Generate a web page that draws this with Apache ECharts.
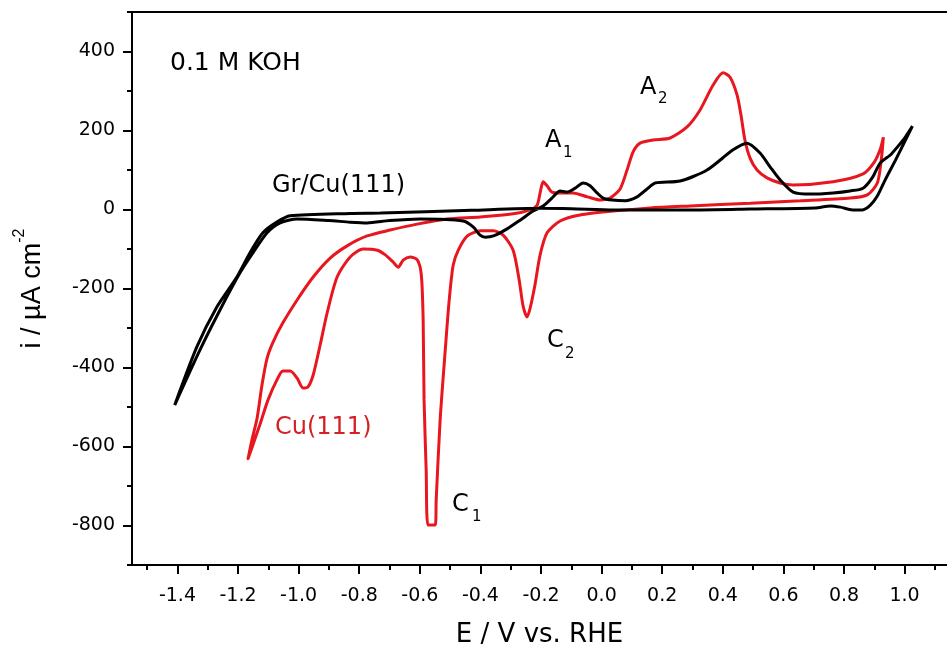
<!DOCTYPE html>
<html>
<head>
<meta charset="utf-8">
<script src="https://cdn.jsdelivr.net/npm/echarts@6/dist/echarts.min.js"></script>
<style>
  html, body { margin: 0; padding: 0; background: #fff; }
  #chart { width: 947px; height: 645px; }
</style>
</head>
<body>
<div id="chart"></div>
<script>
// Cyclic voltammograms in 0.1 M KOH: potential (V vs. RHE) and current density (µA cm^-2).
// Each loop starts at its anodic vertex, runs the cathodic sweep, then returns.

// Gr/Cu(111)
const grCuPotential = [
  1.026, 1.003, 0.970, 0.936, 0.910, 0.887, 0.861, 0.828, 0.788, 0.755, 0.705, 0.49, 0.326, 0.04,
  -0.10, -0.20, -0.43, -0.73, -0.83, -1.028, -1.072, -1.118, -1.161, -1.204, -1.270, -1.336, -1.409,
  -1.326, -1.260, -1.194, -1.151, -1.104, -1.061, -1.005, -0.90, -0.830, -0.774, -0.70, -0.599, -0.457,
  -0.424, -0.401, -0.384, -0.357, -0.312, -0.269, -0.226, -0.193, -0.164, -0.137, -0.114, -0.087, -0.061,
  -0.038, -0.015, 0.005, 0.035, 0.078, 0.117, 0.15, 0.177, 0.259, 0.348, 0.434, 0.480, 0.523, 0.556,
  0.589, 0.632, 0.69, 0.764, 0.82, 0.863, 0.893, 0.920, 0.953, 0.976, 1.003, 1.026
];
const grCuCurrent = [
  211, 176, 125, 75, 34, 11, -1, -1, 6, 9, 4, 1, -1, -1,
  2, 3, -2, -9, -10, -16, -32, -59, -110, -171, -247, -348, -495,
  -356, -255, -161, -110, -59, -34, -24, -28, -32, -34, -28, -24, -29,
  -44, -65, -70, -67, -49, -27, -4, 9, 29, 47, 44, 54, 67,
  60, 42, 29, 24, 22, 32, 52, 67, 72, 100, 151, 168, 143, 108,
  75, 44, 39, 42, 47, 54, 80, 118, 138, 158, 184, 211
];

// Cu(111)
const cuPotential = [
  0.930, 0.923, 0.910, 0.877, 0.821, 0.656, 0.491, 0.293, 0.161, 0.038, -0.071, -0.137, -0.180,
  -0.203, -0.220, -0.236, -0.246, -0.259, -0.272, -0.292, -0.325, -0.357, -0.400, -0.443, -0.473,
  -0.490, -0.503, -0.516, -0.533, -0.546, -0.549, -0.573, -0.579, -0.586, -0.589, -0.595, -0.608,
  -0.632, -0.655, -0.671, -0.688, -0.714, -0.740, -0.787, -0.830, -0.873, -0.906, -0.929, -0.952,
  -0.969, -0.985, -1.005, -1.028, -1.052, -1.072, -1.101, -1.128, -1.151, -1.167,
  -1.154, -1.137, -1.121, -1.104, -1.084, -1.052, -1.005, -0.952, -0.896, -0.840, -0.774, -0.698,
  -0.609, -0.510, -0.401, -0.292, -0.236, -0.213, -0.203, -0.193, -0.180, -0.164, -0.137, -0.094,
  -0.047, -0.005, 0.028, 0.061, 0.084, 0.104, 0.127, 0.170, 0.226, 0.282, 0.325, 0.368, 0.401,
  0.424, 0.447, 0.460, 0.473, 0.490, 0.513, 0.546, 0.589, 0.632, 0.764, 0.863, 0.900, 0.919, 0.930
];
const cuCurrent = [
  183, 125, 67, 37, 29, 22, 16, 9, 4, -4, -14, -29, -59,
  -115, -191, -250, -272, -245, -179, -103, -65, -54, -54, -67, -103,
  -141, -229, -355, -533, -736, -799, -799, -660, -482, -280, -166, -128,
  -120, -128, -146, -133, -115, -103, -100, -120, -171, -262, -343, -419,
  -449, -452, -427, -409, -409, -432, -482, -545, -596, -631,
  -583, -528, -444, -376, -335, -287, -229, -171, -123, -92, -67, -52,
  -37, -24, -19, -11, -1, 11, 42, 70, 60, 44, 42, 42,
  32, 24, 29, 52, 100, 146, 168, 176, 181, 209, 252, 315, 346,
  335, 290, 239, 176, 130, 100, 80, 67, 62, 70, 90, 120, 151, 183
];

// Axis ticks
const xMajorTicks = [-1.4, -1.2, -1.0, -0.8, -0.6, -0.4, -0.2, 0.0, 0.2, 0.4, 0.6, 0.8, 1.0];
const xMinorTicks = [-1.5, -1.3, -1.1, -0.9, -0.7, -0.5, -0.3, -0.1, 0.1, 0.3, 0.5, 0.7, 0.9, 1.1];
const yMajorTicks = [-800, -600, -400, -200, 0, 200, 400];
const yMinorTicks = [-900, -700, -500, -300, -100, 100, 300, 500];

const zip = (xs, ys) => xs.map((x, i) => [x, ys[i]]);

const FONT = '"DejaVu Sans", "Liberation Sans", Arial, sans-serif';
const ARIAL = '"Liberation Sans", Arial, sans-serif';
const RED = '#e8161e';
const X_MIN = -1.55, X_MAX = 1.14, Y_MIN = -900, Y_MAX = 500;

const chart = echarts.init(document.getElementById('chart'), null, { renderer: 'canvas' });

const axisLineStyle = { color: '#000', width: 2 };
const tickStyle = { color: '#000', width: 2 };

function text(left, cy, str, size, color) {
  return {
    type: 'text', left: left, top: cy - size * 0.5, silent: true,
    style: { text: str, font: size + 'px ' + FONT, fill: color || '#000' }
  };
}

chart.setOption({
  animation: false,
  backgroundColor: '#fff',
  grid: { left: 132, right: 0, top: 12, bottom: 80, containLabel: false, outerBoundsMode: 'none' },
  xAxis: [
    {
      type: 'value', min: X_MIN, max: X_MAX, position: 'bottom',
      name: 'E / V vs. RHE', nameLocation: 'middle', nameGap: 57,
      nameTextStyle: { fontFamily: FONT, fontSize: 26, color: '#000' },
      axisLine: { show: true, onZero: false, lineStyle: axisLineStyle },
      axisTick: { show: true, length: 9, customValues: xMajorTicks, lineStyle: tickStyle },
      axisLabel: {
        customValues: xMajorTicks, margin: 22, fontFamily: FONT, fontSize: 19, color: '#000',
        formatter: v => v.toFixed(1)
      },
      splitLine: { show: false }
    },
    {
      type: 'value', min: X_MIN, max: X_MAX, position: 'bottom',
      axisLine: { show: false, onZero: false },
      axisTick: { show: true, length: 5, customValues: xMinorTicks, lineStyle: tickStyle },
      axisLabel: { show: false },
      splitLine: { show: false }
    },
    {
      type: 'value', min: X_MIN, max: X_MAX, position: 'top',
      axisLine: { show: true, onZero: false, lineStyle: axisLineStyle },
      axisTick: { show: false }, axisLabel: { show: false }, splitLine: { show: false }
    }
  ],
  yAxis: [
    {
      type: 'value', min: Y_MIN, max: Y_MAX, position: 'left',
      name: '{t|i / µA cm}{s|-2}', nameLocation: 'middle', nameGap: 86, nameRotate: 90,
      nameTextStyle: {
        fontFamily: ARIAL, fontSize: 27, color: '#000',
        rich: {
          t: { fontFamily: ARIAL, fontSize: 27, color: '#000', verticalAlign: 'bottom', lineHeight: 34 },
          s: { fontFamily: ARIAL, fontSize: 16, color: '#000', verticalAlign: 'top', lineHeight: 34 }
        }
      },
      axisLine: { show: true, onZero: false, lineStyle: axisLineStyle },
      axisTick: { show: true, length: 9, customValues: yMajorTicks, lineStyle: tickStyle },
      axisLabel: { customValues: yMajorTicks, margin: 17, fontFamily: FONT, fontSize: 19, color: '#000' },
      splitLine: { show: false }
    },
    {
      type: 'value', min: Y_MIN, max: Y_MAX, position: 'left',
      axisLine: { show: false, onZero: false },
      axisTick: { show: true, length: 5, customValues: yMinorTicks, lineStyle: tickStyle },
      axisLabel: { show: false },
      splitLine: { show: false }
    }
  ],
  series: [
    {
      name: 'Cu(111)', type: 'line', data: zip(cuPotential, cuCurrent),
      showSymbol: false, smooth: 0.25, clip: true,
      lineStyle: { color: RED, width: 3 }
    },
    {
      name: 'Gr/Cu(111)', type: 'line', data: zip(grCuPotential, grCuCurrent),
      showSymbol: false, smooth: 0.25, clip: true,
      lineStyle: { color: '#000', width: 3 }
    }
  ],
  graphic: [
    text(170, 63, '0.1 M KOH', 25),
    text(272, 186, 'Gr/Cu(111)', 24),
    text(275, 428, 'Cu(111)', 24, '#d42027'),
    text(545, 141, 'A', 24), text(563, 153, '1', 15),
    text(640, 88, 'A', 24), text(658, 99, '2', 15),
    text(547, 341, 'C', 24), text(565, 354, '2', 15),
    text(452, 505, 'C', 24), text(472, 517, '1', 15)
  ]
});
</script>
</body>
</html>
